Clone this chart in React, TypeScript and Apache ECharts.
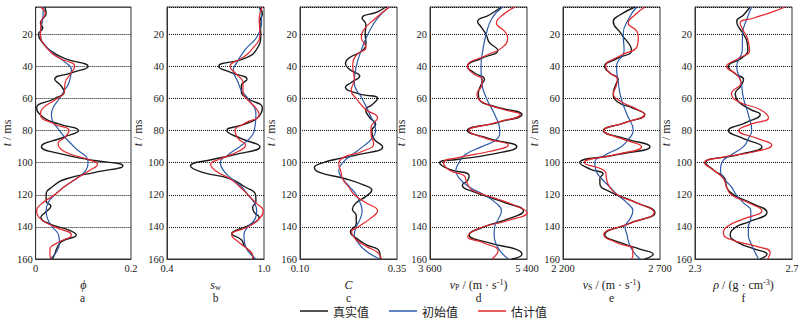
import React, { useEffect, useRef } from 'react';
import * as echarts from 'echarts';

// time axis (ms)
const timeMin = 3;
const timeMax = 160;
const yTickLabels = [20, 40, 60, 80, 100, 120, 140, 160];

const seriesNames = ['真实值', '初始值', '估计值'];
const seriesColors = ['#1a1a1a', '#2c5aa8', '#e4262b'];
const seriesWidths = [1.4, 1.2, 1.2];

// [t (ms), value]
const phiTrue = [[3,0.019],[7,0.022],[13,0.01],[16,0.015],[20,0.006],[25,0.014],[30,0.03],[35,0.06],[40,0.11],[44,0.075],[48,0.04],[52,0.053],[56,0.06],[60,0.04],[66,0.002],[72,0.017],[76,0.05],[80,0.09],[84,0.06],[90,0.012],[95,0.06],[98,0.11],[102,0.183],[106,0.125],[110,0.065],[115,0.035],[120,0.022],[124,0.022],[127,0.032],[131,0.02],[134,0.011],[138,0.028],[142,0.07],[145,0.085],[149,0.055],[153,0.045],[157,0.04],[160,0.035]];
const phiInit = [[3,0.016],[10,0.015],[20,0.01],[30,0.03],[37,0.06],[42,0.075],[50,0.07],[55,0.06],[60,0.05],[65,0.038],[70,0.033],[80,0.05],[90,0.08],[100,0.11],[105,0.105],[110,0.085],[115,0.06],[120,0.04],[125,0.026],[130,0.022],[135,0.025],[140,0.035],[145,0.048],[150,0.05],[155,0.045],[160,0.03]];
const phiEst = [[3,0.01],[7,0.02],[12,0.012],[20,0.01],[30,0.028],[35,0.05],[40,0.082],[44,0.075],[50,0.062],[56,0.06],[60,0.045],[66,0.015],[70,0.01],[76,0.04],[80,0.07],[84,0.062],[88,0.047],[93,0.06],[98,0.11],[101,0.13],[105,0.112],[110,0.085],[115,0.06],[120,0.04],[125,0.015],[130,0.002],[135,0.01],[140,0.04],[145,0.075],[150,0.045],[154,0.03],[158,0.03],[160,0.035]];

const swTrue = [[3,0.97],[7,0.99],[12,0.975],[20,0.98],[30,0.95],[35,0.88],[40,0.72],[44,0.8],[48,0.895],[52,0.86],[56,0.86],[60,0.9],[66,0.99],[72,0.96],[76,0.88],[80,0.77],[85,0.86],[90,0.975],[95,0.82],[98,0.68],[102,0.545],[106,0.62],[110,0.79],[115,0.88],[120,0.948],[124,0.95],[128,0.93],[131,0.94],[134,0.97],[138,0.93],[142,0.83],[144,0.8],[148,0.86],[152,0.88],[156,0.92],[160,0.935]];
const swInit = [[3,0.97],[10,0.985],[20,0.965],[30,0.88],[38,0.83],[42,0.81],[50,0.84],[55,0.86],[60,0.9],[70,0.95],[80,0.94],[85,0.91],[90,0.85],[95,0.78],[100,0.73],[105,0.75],[110,0.8],[115,0.86],[120,0.9],[125,0.94],[130,0.955],[135,0.945],[140,0.9],[145,0.876],[150,0.88],[155,0.9],[160,0.95]];
const swEst = [[3,0.99],[10,0.97],[20,0.975],[30,0.92],[35,0.86],[40,0.79],[45,0.83],[50,0.87],[56,0.87],[60,0.89],[66,0.95],[70,0.97],[76,0.87],[80,0.82],[85,0.84],[89,0.886],[93,0.84],[98,0.72],[101,0.67],[105,0.7],[110,0.79],[115,0.85],[120,0.9],[125,0.95],[130,0.995],[135,0.97],[140,0.9],[145,0.8],[150,0.85],[154,0.9],[158,0.93],[160,0.93]];

const cTrue = [[3,0.321],[6,0.3],[10,0.26],[14,0.27],[20,0.268],[25,0.27],[30,0.262],[35,0.225],[38,0.217],[42,0.228],[46,0.254],[50,0.232],[53,0.217],[57,0.25],[60,0.3],[64,0.285],[67,0.269],[72,0.28],[76,0.295],[80,0.285],[85,0.29],[90,0.313],[95,0.25],[98,0.19],[100,0.16],[103,0.137],[106,0.15],[110,0.217],[114,0.265],[117,0.285],[121,0.27],[125,0.245],[129,0.235],[133,0.245],[138,0.245],[143,0.23],[147,0.245],[151,0.27],[155,0.304],[160,0.307]];
const cInit = [[3,0.33],[10,0.3],[20,0.275],[30,0.258],[40,0.245],[50,0.24],[60,0.26],[70,0.28],[80,0.295],[85,0.285],[90,0.262],[95,0.235],[100,0.21],[105,0.2],[110,0.21],[115,0.228],[120,0.245],[125,0.255],[130,0.26],[135,0.255],[140,0.245],[145,0.24],[150,0.25],[155,0.27],[160,0.305]];
const cEst = [[3,0.33],[10,0.295],[18,0.262],[22,0.258],[28,0.27],[33,0.245],[40,0.236],[48,0.24],[55,0.232],[60,0.245],[67,0.27],[72,0.3],[78,0.283],[82,0.283],[88,0.29],[93,0.26],[97,0.21],[101,0.2],[105,0.205],[110,0.21],[115,0.225],[120,0.24],[125,0.27],[130,0.3],[135,0.28],[140,0.25],[143,0.233],[148,0.245],[152,0.27],[156,0.3],[160,0.31]];

const vpTrue = [[3,4926],[8,4700],[12,4484],[16,4560],[20,4640],[25,4700],[30,4860],[35,4550],[40,4295],[44,4420],[48,4610],[52,4540],[57,4497],[61,4520],[65,4800],[70,5305],[75,4850],[80,4295],[85,4700],[90,5210],[95,4700],[98,4100],[100,3777],[104,3950],[108,4326],[111,4300],[114,4200],[118,4400],[125,5000],[130,5337],[135,5050],[140,4600],[145,4326],[150,4700],[154,5200],[157,5305],[160,5116]];
const vpInit = [[3,4950],[10,4750],[20,4642],[30,4580],[40,4547],[50,4560],[60,4650],[70,4800],[80,4895],[85,4850],[90,4560],[95,4250],[100,4137],[105,4080],[110,4150],[115,4320],[120,4600],[125,4820],[130,4926],[135,4870],[140,4800],[145,4790],[150,4820],[155,4900],[160,5053]];
const vpEst = [[3,5179],[8,4950],[13,4832],[18,4980],[22,5040],[28,4950],[33,4650],[40,4295],[45,4420],[48,4570],[52,4560],[57,4470],[62,4560],[67,4980],[70,5274],[75,4820],[80,4320],[85,4650],[89,5053],[93,4700],[97,4100],[100,3850],[105,3980],[108,4230],[112,4280],[117,4380],[122,4800],[127,5200],[131,5400],[136,5050],[141,4500],[146,4300],[150,4600],[155,4863],[160,4750]];

const vsTrue = [[3,2571],[8,2493],[12,2459],[20,2502],[30,2553],[35,2480],[40,2415],[44,2440],[48,2484],[52,2470],[57,2459],[62,2480],[66,2560],[70,2622],[75,2520],[80,2407],[85,2520],[90,2648],[95,2480],[100,2286],[104,2340],[107,2407],[110,2390],[113,2390],[118,2440],[125,2580],[131,2674],[138,2540],[145,2415],[150,2500],[154,2600],[157,2665],[160,2622]];
const vsInit = [[3,2580],[10,2540],[20,2510],[30,2515],[40,2476],[50,2485],[60,2500],[70,2530],[80,2562],[85,2540],[90,2500],[95,2420],[100,2364],[105,2370],[110,2400],[115,2440],[120,2480],[125,2530],[130,2560],[135,2545],[140,2520],[145,2530],[150,2540],[155,2560],[160,2597]];
const vsEst = [[3,2622],[8,2570],[13,2536],[18,2580],[22,2588],[28,2580],[33,2500],[40,2420],[44,2440],[48,2480],[52,2475],[57,2460],[62,2500],[66,2570],[70,2620],[75,2520],[80,2410],[85,2500],[90,2605],[95,2470],[100,2310],[106,2420],[110,2424],[115,2440],[120,2480],[125,2580],[131,2670],[138,2540],[145,2410],[150,2480],[154,2560],[158,2560],[160,2553]];

const rhoTrue = [[3,2.527],[8,2.5],[12,2.472],[20,2.5],[25,2.515],[30,2.518],[35,2.49],[40,2.438],[45,2.47],[48,2.5],[52,2.49],[57,2.466],[62,2.48],[67,2.53],[70,2.569],[75,2.51],[80,2.438],[85,2.5],[90,2.576],[95,2.48],[100,2.344],[105,2.38],[110,2.424],[115,2.43],[120,2.46],[125,2.53],[131,2.597],[137,2.52],[140,2.47],[145,2.445],[150,2.48],[154,2.55],[157,2.597],[160,2.569]];
const rhoInit = [[3,2.534],[10,2.515],[20,2.496],[30,2.495],[40,2.472],[50,2.49],[60,2.5],[70,2.52],[80,2.534],[85,2.52],[90,2.5],[95,2.45],[100,2.41],[105,2.405],[110,2.42],[115,2.45],[120,2.47],[125,2.5],[130,2.53],[135,2.53],[140,2.52],[145,2.52],[150,2.53],[155,2.545],[160,2.562]];
const rhoEst = [[3,2.672],[6,2.62],[10,2.54],[13,2.486],[18,2.5],[22,2.515],[30,2.525],[35,2.48],[40,2.43],[45,2.47],[50,2.49],[57,2.45],[62,2.48],[67,2.57],[72,2.603],[76,2.53],[80,2.48],[85,2.56],[89,2.617],[93,2.55],[97,2.4],[100,2.339],[105,2.38],[110,2.417],[115,2.43],[120,2.45],[125,2.52],[130,2.576],[135,2.5],[140,2.43],[144,2.417],[148,2.45],[152,2.55],[156,2.61],[160,2.6]];

const xMins = [0, 0.4, 0.1, 3600, 2200, 2.3];
const xMaxs = [0.2, 1.0, 0.35, 5400, 2700, 2.7];
const xMinLabels = ['0', '0.4', '0.10', '3 600', '2 200', '2.3'];
const xMaxLabels = ['0.2', '1.0', '0.35', '5 400', '2 700', '2.7'];
const xNames = [
  '{i|ϕ}',
  '{i|s}{sub|w}',
  '{i|C}',
  '{i|v}{sub|P}{n| / (m · s}{sup|-1}{n|)}',
  '{i|v}{sub|S}{n| / (m · s}{sup|-1}{n|)}',
  '{i|ρ}{n| / (g · cm}{sup|-3}{n|)}',
];
const panelLetters = ['a', 'b', 'c', 'd', 'e', 'f'];
const panelData = [
  [phiTrue, phiInit, phiEst],
  [swTrue, swInit, swEst],
  [cTrue, cInit, cEst],
  [vpTrue, vpInit, vpEst],
  [vsTrue, vsInit, vsEst],
  [rhoTrue, rhoInit, rhoEst],
];

const gridLefts = [34, 167, 300, 430, 563, 695];
const gridWidth = 97;
const gridTop = 7;
const gridHeight = 252;

const SERIF = 'Liberation Serif, Times New Roman, DejaVu Serif, serif';
const CJK = 'Noto Sans CJK SC';

const richStyles = {
  i: { fontStyle: 'italic', fontSize: 12, lineHeight: 13, fontFamily: SERIF, color: '#222' },
  n: { fontSize: 12, lineHeight: 13, fontFamily: SERIF, color: '#222' },
  sub: { fontSize: 8, lineHeight: 5, verticalAlign: 'bottom', fontFamily: SERIF, color: '#222' },
  sup: { fontSize: 8, lineHeight: 5, verticalAlign: 'top', fontFamily: SERIF, color: '#222' },
};

export default function App() {
  const ref = useRef<HTMLDivElement>(null);
  useEffect(() => {
    const chart = echarts.init(ref.current!, null, { renderer: 'svg' });
    const grids: any[] = [];
    const xAxes: any[] = [];
    const yAxes: any[] = [];
    const series: any[] = [];
    const graphics: any[] = [];
    panelData.forEach((sets, p) => {
      grids.push({
        left: gridLefts[p], top: gridTop, width: gridWidth, height: gridHeight,
        show: true, borderColor: '#333', borderWidth: 1, backgroundColor: 'transparent',
      });
      const mn = xMins[p];
      const mx = xMaxs[p];
      const eps = (mx - mn) * 1e-6;
      xAxes.push({
        type: 'value', gridIndex: p, min: mn, max: mx, position: 'bottom',
        axisLine: { show: true, lineStyle: { color: '#333', width: 1 } },
        axisTick: { show: false },
        splitLine: { show: false },
        axisLabel: {
          margin: 4, fontSize: 10.5, fontFamily: SERIF, color: '#222',
          formatter: (v: number) => Math.abs(v - mn) < eps ? xMinLabels[p] : (Math.abs(v - mx) < eps ? xMaxLabels[p] : ''),
        },
        name: xNames[p], nameLocation: 'middle', nameGap: 14,
        nameTextStyle: { fontFamily: SERIF, fontSize: 12, color: '#222', rich: richStyles },
      });
      yAxes.push({
        type: 'value', gridIndex: p, min: timeMin, max: timeMax, inverse: true, splitNumber: 8,
        axisLine: { show: true, lineStyle: { color: '#333', width: 1 } },
        axisTick: { show: false },
        splitLine: { show: true, lineStyle: { color: '#111', width: 1, type: 'dotted' } },
        axisLabel: {
          margin: 3, fontSize: 10.5, fontFamily: SERIF, color: '#222',
          formatter: (v: number) => (yTickLabels.includes(Math.round(v)) && Math.abs(v - Math.round(v)) < 1e-6 ? String(Math.round(v)) : ''),
        },
        name: '{i|t}{n| / ms}', nameLocation: 'middle', nameGap: 20, nameRotate: 90,
        nameTextStyle: { fontFamily: SERIF, fontSize: 12, color: '#222', rich: richStyles },
      });
      sets.forEach((pts, s) => {
        series.push({
          type: 'line', name: seriesNames[s], xAxisIndex: p, yAxisIndex: p,
          data: pts.map((d) => [d[1], d[0]]),
          smooth: 0.5, symbol: 'none', showSymbol: false,
          lineStyle: { color: seriesColors[s], width: seriesWidths[s] },
          itemStyle: { color: seriesColors[s] },
          z: 2 + s,
        });
      });
      graphics.push({
        type: 'text', x: gridLefts[p] + gridWidth / 2, y: 297.5,
        style: { text: panelLetters[p], fontFamily: SERIF, fontSize: 11.5, fill: '#222', align: 'center', verticalAlign: 'middle' },
      });
    });
    chart.setOption({
      animation: false,
      backgroundColor: '#fff',
      grid: grids,
      xAxis: xAxes,
      yAxis: yAxes,
      series,
      graphic: graphics,
      legend: {
        data: seriesNames, left: 300, top: 305, itemWidth: 28, itemHeight: 1.5, itemGap: 20, icon: 'rect',
        padding: 0,
        textStyle: { fontFamily: CJK, fontSize: 12, lineHeight: 12, color: '#222' },
      },
    });
    return () => chart.dispose();
  }, []);
  return <div ref={ref} style={{ position: 'absolute', left: 0, top: 0, width: 805, height: 318, background: '#fff' }} />;
}
